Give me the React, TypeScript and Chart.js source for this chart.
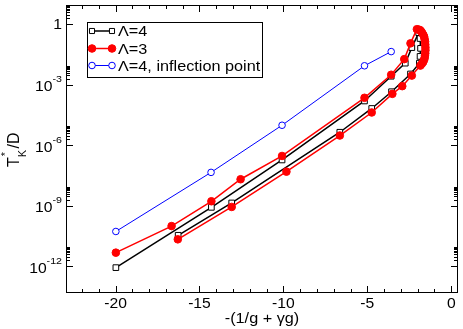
import React, { useEffect, useRef } from "react";
import { Chart, registerables } from "chart.js";

Chart.register(...registerables);

// ---- data ----
const lam4X = [-16.27, -13.08, -6.64, -4.74, -3.56, -2.43, -1.9, -1.86, -1.83, -1.86, -1.94, -2.35, -2.74, -3.58, -5.17, -10.08, -14.29, -19.98];
const lam4Y = [3.5e-11, 1.4e-9, 4.5e-6, 6.8e-5, 4.6e-4, 3.5e-3, 1.2e-2, 2.6e-2, 6.5e-2, 0.2, 0.39, 7.1e-2, 1.2e-2, 2.7e-3, 1.6e-4, 1.9e-7, 8.5e-10, 8.7e-13];

const lam3X = [-16.29, -13.08, -9.82, -6.64, -4.74, -3.51, -2.92, -2.35, -1.84, -1.76, -1.68, -1.63, -1.59, -1.57, -1.55, -1.54, -1.54, -1.55, -1.56, -1.59, -1.62, -1.67, -1.74, -1.8, -1.86, -1.95, -2.05, -2.43, -2.8, -3.58, -5.17, -10.08, -12.55, -14.29, -16.66, -19.98];
const lam3Y = [2.2e-11, 8.9e-10, 5.0e-8, 3.1e-6, 4.3e-5, 3.6e-4, 8.7e-4, 2.9e-3, 9.1e-3, 1.1e-2, 1.35e-2, 1.7e-2, 2.1e-2, 2.8e-2, 3.7e-2, 5.2e-2, 7.2e-2, 0.1, 0.14, 0.19, 0.25, 0.31, 0.39, 0.46, 0.52, 0.56, 0.58, 0.115, 1.9e-2, 3.2e-3, 2.3e-4, 3.0e-7, 2.1e-8, 1.7e-9, 1.0e-10, 4.8e-12];

const inflX = [-19.98, -14.31, -10.08, -5.17, -3.58];
const inflY = [5.4e-11, 4.6e-8, 1.0e-5, 8.9e-3, 4.5e-2];

const seriesLabels = ["Λ=4", "Λ=3", "Λ=4, inflection point"];

const xMajorTicks = [-20, -15, -10, -5, 0];
const xTickLabels = ["-20", "-15", "-10", "-5", "0"];
const yMajorTicks = [1e-12, 1e-9, 1e-6, 1e-3, 1];
const yTickExps = ["-12", "-9", "-6", "-3", ""];

const xTitle = "-(1/g + γg)";

const FONT = '"Liberation Sans", Arial, Helvetica, sans-serif';
const SX = 1.12;

function textW(ctx: CanvasRenderingContext2D, s: string, size: number, sx = SX) {
  ctx.font = `${size}px ${FONT}`;
  return ctx.measureText(s).width * sx;
}

function drawText(
  ctx: CanvasRenderingContext2D,
  s: string,
  x: number,
  y: number,
  size: number,
  align: "left" | "center" | "right",
  sx = SX
) {
  ctx.save();
  ctx.font = `${size}px ${FONT}`;
  const w = ctx.measureText(s).width * sx;
  let x0 = x;
  if (align === "center") x0 = x - w / 2;
  else if (align === "right") x0 = x - w;
  ctx.translate(x0, y);
  ctx.scale(sx, 1);
  ctx.textAlign = "left";
  ctx.textBaseline = "alphabetic";
  ctx.fillStyle = "#000";
  ctx.fillText(s, 0, 0);
  ctx.restore();
  return w;
}

function drawMarker(ctx: CanvasRenderingContext2D, ds: any, x: number, y: number, r: number) {
  ctx.save();
  ctx.lineWidth = ds.pointBorderWidth;
  ctx.strokeStyle = ds.pointBorderColor;
  ctx.fillStyle = ds.pointBackgroundColor;
  ctx.beginPath();
  if (ds.pointStyle === "rect") {
    const h = Math.SQRT1_2 * r;
    ctx.rect(x - h, y - h, 2 * h, 2 * h);
  } else {
    ctx.arc(x, y, r, 0, Math.PI * 2);
  }
  ctx.fill();
  ctx.stroke();
  ctx.restore();
}

const framePlugin = {
  id: "framePlugin",
  afterDraw(chart: any) {
    const { ctx, chartArea: a, scales } = chart;
    const xs = scales.x;
    const ys = scales.y;
    ctx.save();
    ctx.strokeStyle = "#000";
    ctx.lineWidth = 1;
    // frame
    ctx.strokeRect(a.left + 0.5, a.top + 0.5, a.right - a.left - 1, a.bottom - a.top - 1);

    const vTick = (px: number, len: number) => {
      const x = Math.round(px) + 0.5;
      ctx.beginPath();
      ctx.moveTo(x, a.bottom);
      ctx.lineTo(x, a.bottom - len);
      ctx.moveTo(x, a.top);
      ctx.lineTo(x, a.top + len);
      ctx.stroke();
    };
    const hTick = (py: number, len: number) => {
      const y = Math.round(py) + 0.5;
      ctx.beginPath();
      ctx.moveTo(a.left, y);
      ctx.lineTo(a.left + len, y);
      ctx.moveTo(a.right, y);
      ctx.lineTo(a.right - len, y);
      ctx.stroke();
    };

    // x ticks
    for (let v = Math.ceil(xs.min); v <= xs.max; v++) {
      const major = xMajorTicks.includes(v);
      vTick(xs.getPixelForValue(v), major ? 7 : 4);
    }
    xMajorTicks.forEach((v, i) => {
      drawText(ctx, xTickLabels[i], xs.getPixelForValue(v), 308, 14, "center");
    });

    // y ticks
    yMajorTicks.forEach((v, i) => {
      const py = ys.getPixelForValue(v);
      hTick(py, 7);
      for (let k = 2; k <= 9; k++) {
        const mv = v * k;
        if (mv <= ys.max) hTick(ys.getPixelForValue(mv), 4);
      }
      const exp = yTickExps[i];
      const right = a.left - 4;
      if (exp === "") {
        drawText(ctx, "1", right, py + 5, 14, "right");
      } else {
        const sw = textW(ctx, exp, 9.5);
        drawText(ctx, exp, right - sw, py - 2.5, 9.5, "left");
        drawText(ctx, "10", right - sw, py + 6.5, 14, "right");
      }
    });

    // x title
    drawText(ctx, xTitle, (a.left + a.right) / 2, 323, 14.5, "center");

    // y title  T_K^*/D
    ctx.save();
    ctx.translate(18.5, 167);
    ctx.rotate(-Math.PI / 2);
    ctx.fillStyle = "#000";
    ctx.textBaseline = "alphabetic";
    ctx.textAlign = "left";
    ctx.font = `16px ${FONT}`;
    ctx.fillText("T", 0, 0);
    let cx = ctx.measureText("T").width;
    ctx.font = `11px ${FONT}`;
    ctx.fillText("K", cx, 7.5);
    const kw = ctx.measureText("K").width;
    ctx.fillText("*", cx + 1, -9.5);
    cx += kw + 1.5;
    ctx.font = `16px ${FONT}`;
    ctx.fillText("/D", cx, 0);
    ctx.restore();

    // legend
    const lx = 87.5, ly = 22.5, lw = 175, lh = 55;
    ctx.fillStyle = "#fff";
    ctx.fillRect(lx, ly, lw, lh);
    ctx.strokeStyle = "#000";
    ctx.lineWidth = 1;
    ctx.strokeRect(lx, ly, lw, lh);
    const rows = [31, 48.5, 65.5];
    chart.data.datasets.forEach((ds: any, i: number) => {
      const y = rows[i];
      ctx.save();
      ctx.strokeStyle = ds.borderColor;
      ctx.lineWidth = ds.borderWidth;
      ctx.beginPath();
      ctx.moveTo(92, y);
      ctx.lineTo(112, y);
      ctx.stroke();
      ctx.restore();
      const r = ds.pointStyle === "rect" ? 3.6 : ds.pointRadius;
      drawMarker(ctx, ds, 92, y, r);
      drawMarker(ctx, ds, 112, y, r);
      drawText(ctx, ds.label, 118, y + 5, 14.5, "left");
    });
    ctx.restore();
  },
};

export default function App() {
  const ref = useRef<HTMLCanvasElement>(null);
  useEffect(() => {
    const canvas = ref.current;
    if (!canvas) return;
    const chart = new Chart(canvas, {
      type: "scatter",
      data: {
        datasets: [
          {
            label: seriesLabels[0],
            data: lam4X.map((x, i) => ({ x, y: lam4Y[i] })),
            showLine: true,
            borderColor: "#000000",
            borderWidth: 1.5,
            pointStyle: "rect",
            pointRadius: 4,
            pointBackgroundColor: "#ffffff",
            pointBorderColor: "#000000",
            pointBorderWidth: 1,
            order: 1,
          },
          {
            label: seriesLabels[1],
            data: lam3X.map((x, i) => ({ x, y: lam3Y[i] })),
            showLine: true,
            borderColor: "#ff0000",
            borderWidth: 1.5,
            pointStyle: "circle",
            pointRadius: 3.8,
            pointBackgroundColor: "#ff0000",
            pointBorderColor: "#ff0000",
            pointBorderWidth: 1,
            order: 0,
          },
          {
            label: seriesLabels[2],
            data: inflX.map((x, i) => ({ x, y: inflY[i] })),
            showLine: true,
            borderColor: "#0000ff",
            borderWidth: 1,
            pointStyle: "circle",
            pointRadius: 3.3,
            pointBackgroundColor: "#ffffff",
            pointBorderColor: "#0000ff",
            pointBorderWidth: 1,
            order: 2,
          },
        ] as any,
      },
      options: {
        responsive: false,
        devicePixelRatio: 1,
        animation: false,
        layout: { padding: { left: 66, right: 1, top: 1, bottom: 36 } },
        plugins: { legend: { display: false }, tooltip: { enabled: false } },
        scales: {
          x: { type: "linear", min: -22.95, max: 0.4, display: false },
          y: { type: "logarithmic", min: 4.8e-14, max: 9.2, display: false },
        },
      },
      plugins: [framePlugin],
    });
    return () => chart.destroy();
  }, []);
  return (
    <div style={{ position: "fixed", left: 0, top: 0, width: 463, height: 329, background: "#fff" }}>
      <canvas ref={ref} width={463} height={329} style={{ display: "block", width: 463, height: 329 }} />
    </div>
  );
}
